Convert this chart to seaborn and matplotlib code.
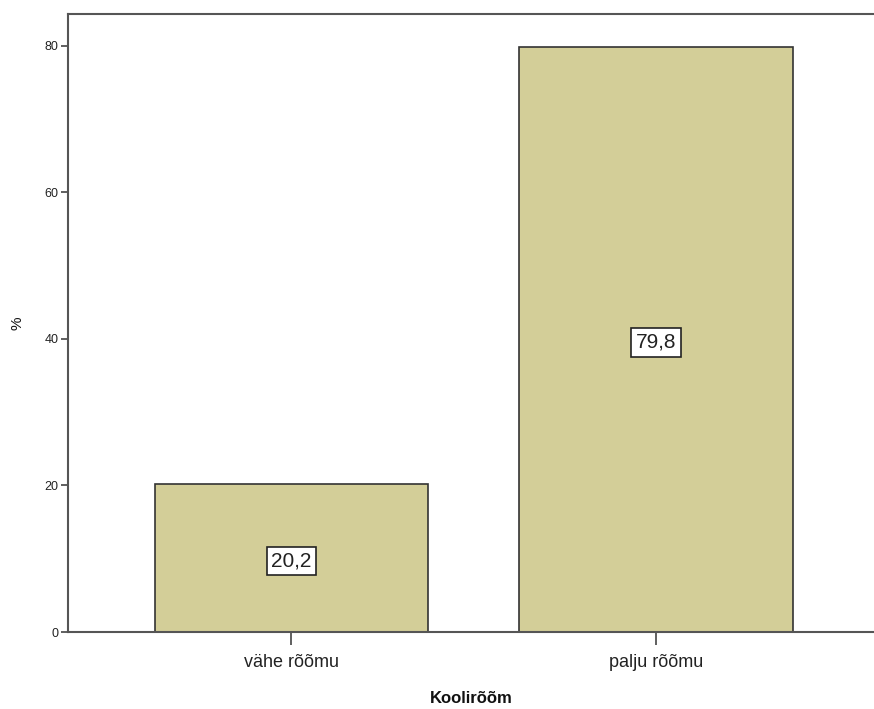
import pandas as pd
import numpy as np
import matplotlib.pyplot as plt
import seaborn as sns

categories = ['vähe rõõmu', 'palju rõõmu']
percents = [20.2, 79.8]
value_labels = ['20,2', '79,8']

df = pd.DataFrame({'Koolirõõm': categories, 'pct': percents})

sns.set_style('white')
plt.rcParams['font.family'] = ['Liberation Sans', 'DejaVu Sans']

fig = plt.figure(figsize=(8.74, 7.09), dpi=100)
ax = fig.add_axes([0.0778, 0.1086, 0.9222, 0.8716])

sns.barplot(data=df, x='Koolirõõm', y='pct', color='#D3CE98', saturation=1,
            width=0.75, edgecolor='#333333', linewidth=1.2, ax=ax)

# value boxes sit a little below the bar midpoint
for i, (v, lab) in enumerate(zip(percents, value_labels)):
    ax.text(i, v / 2 - 0.4, lab, ha='center', va='center', fontsize=15, color='#222222',
            bbox=dict(boxstyle='square,pad=0.22', facecolor='white', edgecolor='#222222', linewidth=1.2))

ax.set_xlim(-0.613, 1.598)
ax.set_ylim(0, 84.3)
ax.set_yticks([0, 20, 40, 60, 80])
ax.set_ylabel('%', fontsize=11, labelpad=14, color='#111111')
ax.set_xlabel('Koolirõõm', fontsize=12, fontweight='bold', labelpad=14, color='#111111')
ax.tick_params(axis='y', length=5, width=1.2, color='#444444', labelsize=9, pad=2,
               left=True, labelcolor='#222222')
ax.tick_params(axis='x', length=9, width=1.2, color='#444444', labelsize=13, pad=7,
               bottom=True, labelcolor='#222222')

for s in ['left', 'top', 'bottom']:
    ax.spines[s].set_color('#555555')
    ax.spines[s].set_linewidth(1.5)
ax.spines['right'].set_visible(False)

fig.savefig('out.png', dpi=100)
